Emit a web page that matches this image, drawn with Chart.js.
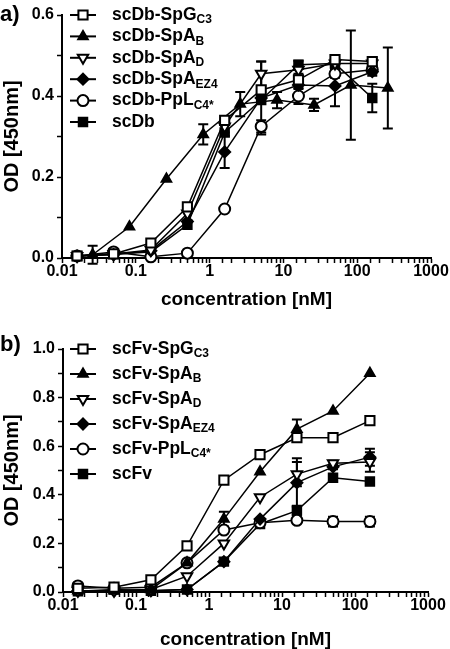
<!DOCTYPE html>
<html>
<head>
<meta charset="utf-8">
<script src="https://cdn.jsdelivr.net/npm/chart.js@4/dist/chart.umd.min.js"></script>
<style>
  body { margin: 0; background: #fff; width: 450px; height: 649px; overflow: hidden; }
  .panel { position: absolute; left: 0; width: 450px; }
  .tag { position: absolute; left: 0; font: bold 22px "Liberation Sans", Arial, sans-serif; color: #000; }
</style>
</head>
<body>
<div class="panel" style="top:0;height:320px"><canvas id="chartA"></canvas></div>
<div class="panel" style="top:320px;height:329px"><canvas id="chartB"></canvas></div>
<div class="tag" style="top:1px">a)</div>
<div class="tag" style="top:331px">b)</div>
<script>
// concentrations [nM]
var conc = [0.016, 0.05, 0.16, 0.5, 1.6, 5, 16, 50, 160];
var concShift = [0.026, 0.082, 0.26, 0.82, 2.6, 8.2, 26, 82, 260];

// panel a) scDb constructs
var namesA = ["scDb-SpG", "scDb-SpA", "scDb-SpA", "scDb-SpA", "scDb-PpL", "scDb"];
var subsA = ["C3", "B", "D", "EZ4", "C4*", ""];
var dbSpG = [0.005, 0.01, 0.037, 0.126, 0.34, 0.415, 0.44, 0.49, 0.485];
var dbSpGErr = [0, 0, 0, 0, 0, 0, 0.01, 0.01, 0.01];
var dbSpAB = [0.008, 0.077, 0.195, 0.305, 0.38, 0.39, 0.378, 0.427, 0.42];
var dbSpABErr = [0.022, 0, 0, 0.025, 0.03, 0.02, 0.015, 0.135, 0.1];
var dbSpAD = [0.005, 0.01, 0.02, 0.11, 0.325, 0.455, 0.465, 0.48, 0.48];
var dbSpADErr = [0, 0, 0, 0, 0.015, 0.03, 0.01, 0.01, 0.01];
var dbSpAEZ4 = [0.005, 0.008, 0.018, 0.09, 0.262, 0.395, 0.427, 0.425, 0.46];
var dbSpAEZ4Err = [0, 0, 0, 0, 0.04, 0.09, 0.01, 0.05, 0.01];
var dbPpL = [0.005, 0.015, 0.003, 0.012, 0.121, 0.325, 0.4, 0.455, 0.465];
var dbPpLErr = [0, 0, 0, 0, 0, 0.015, 0.02, 0.01, 0.01];
var scDb = [0.005, 0.01, 0.015, 0.082, 0.31, 0.39, 0.477, 0.48, 0.395];
var scDbErr = [0, 0, 0, 0, 0, 0, 0.01, 0.01, 0.035];

// panel b) scFv constructs
var namesB = ["scFv-SpG", "scFv-SpA", "scFv-SpA", "scFv-SpA", "scFv-PpL", "scFv"];
var subsB = ["C3", "B", "D", "EZ4", "C4*", ""];
var fvSpG = [0.015, 0.02, 0.05, 0.19, 0.46, 0.565, 0.635, 0.635, 0.705];
var fvSpGErr = [0, 0, 0, 0, 0, 0, 0, 0, 0];
var fvSpAB = [0.005, 0.005, 0.01, 0.12, 0.3, 0.495, 0.67, 0.745, 0.9];
var fvSpABErr = [0, 0, 0, 0, 0.03, 0, 0.04, 0, 0];
var fvSpAD = [0.005, 0.005, 0.01, 0.065, 0.2, 0.39, 0.485, 0.53, 0.535];
var fvSpADErr = [0, 0, 0, 0, 0, 0, 0.05, 0.01, 0.04];
var fvSpAEZ4 = [0.005, 0.005, 0.005, 0.01, 0.125, 0.3, 0.45, 0.515, 0.555];
var fvSpAEZ4Err = [0, 0, 0, 0, 0, 0, 0.1, 0.01, 0.035];
var fvPpL = [0.025, 0.015, 0.02, 0.12, 0.255, 0.285, 0.295, 0.29, 0.29];
var fvPpLErr = [0, 0, 0, 0, 0, 0, 0, 0.02, 0.02];
var scFv = [0.003, 0.01, 0.005, 0.01, 0.125, 0.28, 0.335, 0.47, 0.455];
var scFvErr = [0, 0, 0, 0, 0, 0, 0.02, 0, 0];

var FONT = "'Liberation Sans', Arial, sans-serif";

// marker style per series (same order in both panels)
var markers = [
  { pointStyle: "rect", radius: 6.5, fill: "#fff", rotation: 0 },
  { pointStyle: "triangle", radius: 5.5, fill: "#000", rotation: 0 },
  { pointStyle: "triangle", radius: 6, fill: "#fff", rotation: 180 },
  { pointStyle: "rectRot", radius: 5.5, fill: "#000", rotation: 0 },
  { pointStyle: "circle", radius: 5.5, fill: "#fff", rotation: 0 },
  { pointStyle: "rect", radius: 6, fill: "#000", rotation: 0 }
];

function makeSet(xs, ys, errs, i, name, sub) {
  var pts = [];
  for (var k = 0; k < xs.length; k++) pts.push({ x: xs[k], y: ys[k] });
  var m = markers[i];
  return {
    label: name, sub: sub, errors: errs, data: pts,
    borderColor: "#000", backgroundColor: "#000", borderWidth: 1.5,
    pointStyle: m.pointStyle, pointRadius: m.radius, pointRotation: m.rotation,
    pointBackgroundColor: m.fill, pointBorderColor: "#000", pointBorderWidth: 2,
    clip: false
  };
}

var errorBars = {
  id: "errorBars",
  beforeDatasetsDraw: function (chart) {
    var ctx = chart.ctx, xs = chart.scales.x, ys = chart.scales.y;
    ctx.save();
    ctx.strokeStyle = "#000";
    ctx.lineWidth = 2;
    chart.data.datasets.forEach(function (ds) {
      ds.data.forEach(function (p, i) {
        var e = ds.errors[i];
        if (!e) return;
        var px = xs.getPixelForValue(p.x);
        var top = ys.getPixelForValue(p.y + e), bot = ys.getPixelForValue(p.y - e);
        ctx.beginPath();
        ctx.moveTo(px, top); ctx.lineTo(px, bot);
        ctx.moveTo(px - 5, top); ctx.lineTo(px + 5, top);
        ctx.moveTo(px - 5, bot); ctx.lineTo(px + 5, bot);
        ctx.stroke();
      });
    });
    ctx.restore();
  }
};

var lineLegend = {
  id: "lineLegend",
  afterDraw: function (chart, args, opts) {
    var ctx = chart.ctx;
    ctx.save();
    chart.data.datasets.forEach(function (ds, i) {
      var y = opts.y + i * opts.gap;
      ctx.strokeStyle = "#000";
      ctx.lineWidth = 2;
      ctx.beginPath();
      ctx.moveTo(70, y); ctx.lineTo(96, y);
      ctx.stroke();
      var m = markers[i];
      ctx.fillStyle = m.fill;
      ctx.lineWidth = 2;
      Chart.helpers.drawPoint(ctx, { pointStyle: m.pointStyle, rotation: m.rotation, radius: m.radius, borderWidth: 2 }, 83, y);
      ctx.fillStyle = "#000";
      ctx.textBaseline = "middle";
      ctx.textAlign = "left";
      ctx.font = "bold 17.5px " + FONT;
      ctx.fillText(ds.label, 112, y);
      if (ds.sub) {
        var w = ctx.measureText(ds.label).width;
        ctx.font = "bold 12px " + FONT;
        ctx.fillText(ds.sub, 112 + w, y + 5);
      }
    });
    ctx.restore();
  }
};

function makeOptions(yMax, pad, yWidth, xHeight, titlePad, legY, legGap) {
  return {
    responsive: true, maintainAspectRatio: false, animation: false,
    layout: { padding: pad },
    plugins: { legend: { display: false }, tooltip: { enabled: false }, lineLegend: { y: legY, gap: legGap } },
    scales: {
      x: {
        type: "logarithmic", min: 0.01, max: 1000,
        afterFit: function (s) { s.height = xHeight; },
        border: { display: true, color: "#000", width: 2 },
        grid: { drawOnChartArea: false, drawTicks: true, tickLength: 5, tickColor: "#000", tickWidth: 1.5 },
        ticks: {
          autoSkip: false, maxRotation: 0, padding: -1, color: "#000",
          font: { family: FONT, size: 16, weight: "bold" },
          callback: function (v) {
            var l = Math.log10(v);
            if (Math.abs(l - Math.round(l)) > 1e-6) return "";
            return String(Number(v.toPrecision(1)));
          }
        },
        title: { display: true, text: "concentration [nM]", color: "#000", padding: { top: 0, bottom: titlePad },
          font: { family: FONT, size: 19, weight: "bold", lineHeight: 1 } }
      },
      y: {
        min: 0, max: yMax,
        afterFit: function (s) { s.width = yWidth; },
        border: { display: true, color: "#000", width: 2 },
        grid: { drawOnChartArea: false, drawTicks: true, tickLength: 5, tickColor: "#000", tickWidth: 1.5 },
        ticks: {
          stepSize: 0.1, padding: 3, color: "#000",
          font: { family: FONT, size: 16, weight: "bold" },
          callback: function (v) { return Math.round(v * 10) % 2 === 0 ? v.toFixed(1) : ""; }
        },
        title: { display: true, text: "OD [450nm]", color: "#000", padding: { top: 2, bottom: 0 },
          font: { family: FONT, size: 20, weight: "bold", lineHeight: 1 } }
      }
    }
  };
}

var setsA = [
  makeSet(conc, dbSpG, dbSpGErr, 0, namesA[0], subsA[0]),
  makeSet(concShift, dbSpAB, dbSpABErr, 1, namesA[1], subsA[1]),
  makeSet(conc, dbSpAD, dbSpADErr, 2, namesA[2], subsA[2]),
  makeSet(conc, dbSpAEZ4, dbSpAEZ4Err, 3, namesA[3], subsA[3]),
  makeSet(conc, dbPpL, dbPpLErr, 4, namesA[4], subsA[4]),
  makeSet(conc, scDb, scDbErr, 5, namesA[5], subsA[5])
];
var setsB = [
  makeSet(conc, fvSpG, fvSpGErr, 0, namesB[0], subsB[0]),
  makeSet(conc, fvSpAB, fvSpABErr, 1, namesB[1], subsB[1]),
  makeSet(conc, fvSpAD, fvSpADErr, 2, namesB[2], subsB[2]),
  makeSet(conc, fvSpAEZ4, fvSpAEZ4Err, 3, namesB[3], subsB[3]),
  makeSet(conc, fvPpL, fvPpLErr, 4, namesB[4], subsB[4]),
  makeSet(conc, scFv, scFvErr, 5, namesB[5], subsB[5])
];

new Chart(document.getElementById("chartA"), {
  type: "line",
  data: { datasets: setsA },
  options: makeOptions(0.6, { top: 15, right: 19, left: 0, bottom: 0 }, 62, 62, 11, 15, 21.4),
  plugins: [errorBars, lineLegend]
});
new Chart(document.getElementById("chartB"), {
  type: "line",
  data: { datasets: setsB },
  options: makeOptions(1.0, { top: 29, right: 22, left: 0, bottom: 0 }, 63, 57, 0, 29, 25),
  plugins: [errorBars, lineLegend]
});
</script>
</body>
</html>
